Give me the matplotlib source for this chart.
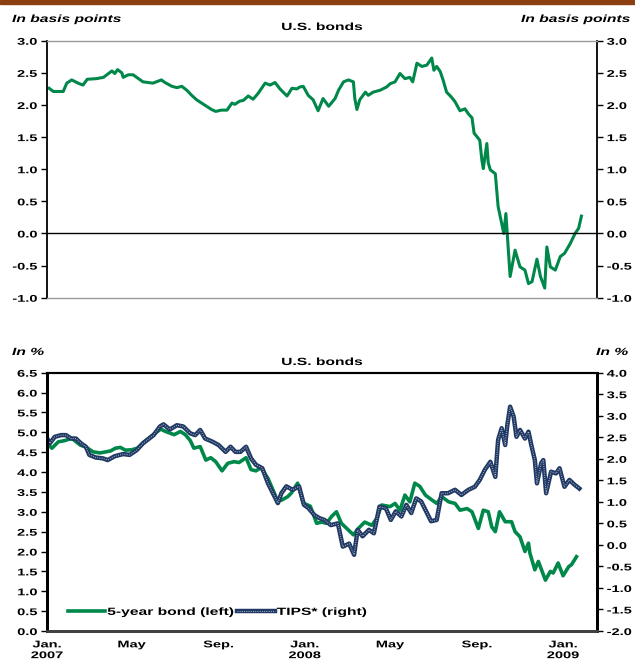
import pandas as pd
import matplotlib
matplotlib.use("Agg")
import matplotlib.pyplot as plt
from matplotlib.lines import Line2D
from matplotlib.patches import Rectangle
from matplotlib.patheffects import AbstractPathEffect
from matplotlib.transforms import Affine2D

plt.rcParams['font.family'] = ['Liberation Sans', 'DejaVu Sans']
plt.rcParams['font.weight'] = 'bold'
plt.rcParams['font.size'] = 7

# spread (top panel)
spread_dates = ["2007-01-04", "2007-01-10", "2007-01-24", "2007-01-29", "2007-02-05", "2007-02-14",
                "2007-02-21", "2007-02-27", "2007-03-12", "2007-03-22", "2007-04-03", "2007-04-07",
                "2007-04-11", "2007-04-17", "2007-04-19", "2007-04-26", "2007-05-03", "2007-05-08",
                "2007-05-17", "2007-05-31", "2007-06-12", "2007-06-17", "2007-06-27", "2007-07-04",
                "2007-07-11", "2007-07-18", "2007-07-25", "2007-08-01", "2007-08-08", "2007-08-15",
                "2007-08-22", "2007-08-28", "2007-09-05", "2007-09-13", "2007-09-20", "2007-09-24",
                "2007-10-01", "2007-10-06", "2007-10-13", "2007-10-20", "2007-10-27", "2007-11-06",
                "2007-11-13", "2007-11-20", "2007-11-27", "2007-12-07", "2007-12-14", "2007-12-21",
                "2007-12-25", "2007-12-30", "2008-01-06", "2008-01-13", "2008-01-20", "2008-01-27",
                "2008-02-04", "2008-02-13", "2008-02-18", "2008-02-25", "2008-03-03", "2008-03-10",
                "2008-03-12", "2008-03-15", "2008-03-19", "2008-03-27", "2008-03-31", "2008-04-07",
                "2008-04-17", "2008-04-26", "2008-05-01", "2008-05-08", "2008-05-15", "2008-05-22",
                "2008-05-29", "2008-06-02", "2008-06-08", "2008-06-15", "2008-06-22", "2008-06-29",
                "2008-07-02", "2008-07-06", "2008-07-11", "2008-07-15", "2008-07-20", "2008-07-27",
                "2008-08-01", "2008-08-08", "2008-08-15", "2008-08-20", "2008-08-25", "2008-08-28",
                "2008-09-03", "2008-09-05", "2008-09-08", "2008-09-10", "2008-09-15", "2008-09-17",
                "2008-09-20", "2008-09-27", "2008-10-01", "2008-10-05", "2008-10-09", "2008-10-12",
                "2008-10-18", "2008-10-25", "2008-11-01", "2008-11-08", "2008-11-13", "2008-11-18",
                "2008-11-25", "2008-11-30", "2008-12-06", "2008-12-09", "2008-12-14", "2008-12-21",
                "2008-12-28", "2009-01-03", "2009-01-11", "2009-01-18", "2009-01-23", "2009-01-27"]
spread_values = [2.26, 2.21, 2.21, 2.34, 2.39, 2.34, 2.31, 2.40, 2.41, 2.43, 2.53, 2.49,
                 2.55, 2.50, 2.43, 2.47, 2.47, 2.43, 2.36, 2.34, 2.39, 2.35, 2.29, 2.27,
                 2.29, 2.23, 2.15, 2.08, 2.03, 1.98, 1.93, 1.90, 1.92, 1.92, 2.03, 2.01,
                 2.06, 2.07, 2.14, 2.09, 2.18, 2.34, 2.31, 2.35, 2.25, 2.14, 2.26, 2.25,
                 2.28, 2.29, 2.15, 2.08, 1.91, 2.10, 1.98, 2.10, 2.23, 2.36, 2.39, 2.36,
                 2.10, 1.93, 2.08, 2.20, 2.15, 2.20, 2.23, 2.28, 2.33, 2.36, 2.49, 2.41,
                 2.43, 2.36, 2.65, 2.60, 2.62, 2.73, 2.54, 2.60, 2.52, 2.39, 2.20, 2.12,
                 2.05, 1.91, 1.94, 1.86, 1.80, 1.56, 1.48, 1.45, 1.14, 1.01, 1.40, 1.10,
                 0.99, 0.93, 0.42, 0.21, 0.00, 0.31, -0.67, -0.26, -0.52, -0.57, -0.78, -0.75,
                 -0.40, -0.67, -0.85, -0.21, -0.52, -0.57, -0.36, -0.31, -0.16, 0.00, 0.08, 0.27]

# 5-year bond (left axis, bottom panel)
bond_dates = ["2007-01-03", "2007-01-08", "2007-01-17", "2007-01-26", "2007-02-05", "2007-02-17",
              "2007-02-26", "2007-03-07", "2007-03-17", "2007-04-01", "2007-04-08", "2007-04-15",
              "2007-04-22", "2007-05-01", "2007-05-09", "2007-05-18", "2007-06-01", "2007-06-11",
              "2007-06-18", "2007-06-30", "2007-07-09", "2007-07-16", "2007-07-23", "2007-07-28",
              "2007-08-06", "2007-08-14", "2007-08-21", "2007-08-28", "2007-09-06", "2007-09-14",
              "2007-09-23", "2007-09-30", "2007-10-10", "2007-10-17", "2007-10-24", "2007-10-31",
              "2007-11-10", "2007-11-19", "2007-11-24", "2007-11-30", "2007-12-08", "2007-12-13",
              "2007-12-17", "2007-12-22", "2007-12-30", "2008-01-09", "2008-01-18", "2008-01-25",
              "2008-02-01", "2008-02-08", "2008-02-15", "2008-02-22", "2008-03-03", "2008-03-10",
              "2008-03-17", "2008-03-26", "2008-04-05", "2008-04-12", "2008-04-19", "2008-05-01",
              "2008-05-08", "2008-05-15", "2008-05-22", "2008-05-29", "2008-06-05", "2008-06-12",
              "2008-06-20", "2008-06-29", "2008-07-06", "2008-07-13", "2008-07-23", "2008-08-01",
              "2008-08-08", "2008-08-18", "2008-08-25", "2008-09-03", "2008-09-10", "2008-09-17",
              "2008-09-22", "2008-09-27", "2008-10-03", "2008-10-11", "2008-10-20", "2008-10-25",
              "2008-11-01", "2008-11-08", "2008-11-13", "2008-11-15", "2008-11-22", "2008-11-27",
              "2008-12-07", "2008-12-14", "2008-12-18", "2008-12-25", "2009-01-01", "2009-01-09",
              "2009-01-13", "2009-01-20"]
bond_values = [4.68, 4.60, 4.76, 4.79, 4.85, 4.68, 4.62, 4.51, 4.48, 4.53, 4.60, 4.62,
               4.55, 4.56, 4.60, 4.75, 4.95, 5.08, 5.02, 4.94, 5.02, 4.94, 4.79, 4.60,
               4.64, 4.30, 4.36, 4.26, 4.03, 4.22, 4.26, 4.24, 4.36, 4.06, 4.03, 4.11,
               3.84, 3.47, 3.26, 3.30, 3.38, 3.47, 3.58, 3.72, 3.22, 3.14, 2.71, 2.74,
               2.71, 2.88, 3.00, 2.71, 2.54, 2.42, 2.58, 2.74, 2.66, 2.83, 3.17, 3.13,
               3.21, 3.04, 3.42, 3.25, 3.72, 3.64, 3.42, 3.30, 3.21, 3.38, 3.25, 3.21,
               3.04, 3.08, 3.00, 2.58, 3.04, 3.00, 2.62, 2.50, 3.00, 2.75, 2.75, 2.50,
               2.37, 2.00, 2.21, 1.96, 1.54, 1.75, 1.28, 1.50, 1.46, 1.71, 1.39, 1.62,
               1.67, 1.87]

# TIPS (right axis, bottom panel)
tips_dates = ["2007-01-01", "2007-01-05", "2007-01-12", "2007-01-21", "2007-01-28", "2007-02-04",
              "2007-02-11", "2007-02-18", "2007-02-25", "2007-03-02", "2007-03-11", "2007-03-21",
              "2007-03-28", "2007-04-07", "2007-04-19", "2007-04-28", "2007-05-08", "2007-05-17",
              "2007-06-01", "2007-06-10", "2007-06-15", "2007-06-24", "2007-07-04", "2007-07-13",
              "2007-07-23", "2007-07-30", "2007-08-06", "2007-08-13", "2007-08-23", "2007-09-01",
              "2007-09-11", "2007-09-18", "2007-09-25", "2007-10-02", "2007-10-10", "2007-10-17",
              "2007-10-24", "2007-11-02", "2007-11-10", "2007-11-17", "2007-11-24", "2007-11-29",
              "2007-12-06", "2007-12-15", "2007-12-24", "2007-12-31", "2008-01-06", "2008-01-15",
              "2008-01-22", "2008-01-29", "2008-02-07", "2008-02-17", "2008-02-24", "2008-03-04",
              "2008-03-11", "2008-03-16", "2008-03-23", "2008-04-01", "2008-04-08", "2008-04-16",
              "2008-04-25", "2008-05-02", "2008-05-09", "2008-05-17", "2008-05-24", "2008-05-31",
              "2008-06-07", "2008-06-14", "2008-06-21", "2008-06-28", "2008-07-06", "2008-07-13",
              "2008-07-22", "2008-08-01", "2008-08-10", "2008-08-20", "2008-08-29", "2008-09-05",
              "2008-09-12", "2008-09-20", "2008-09-27", "2008-10-01", "2008-10-06", "2008-10-11",
              "2008-10-14", "2008-10-18", "2008-10-23", "2008-10-27", "2008-11-01", "2008-11-08",
              "2008-11-13", "2008-11-17", "2008-11-22", "2008-11-25", "2008-12-01", "2008-12-04",
              "2008-12-08", "2008-12-15", "2008-12-22", "2008-12-27", "2009-01-03", "2009-01-10",
              "2009-01-17", "2009-01-24"]
tips_values = [2.48, 2.36, 2.51, 2.55, 2.55, 2.47, 2.47, 2.36, 2.28, 2.09, 2.03, 2.01,
               1.97, 2.06, 2.11, 2.09, 2.20, 2.36, 2.55, 2.75, 2.80, 2.68, 2.78, 2.75,
               2.59, 2.55, 2.67, 2.47, 2.40, 2.32, 2.16, 2.28, 2.16, 2.16, 2.28, 2.01,
               1.86, 1.78, 1.43, 1.20, 0.97, 1.20, 1.36, 1.28, 1.36, 0.93, 0.86, 0.69,
               0.62, 0.58, 0.46, 0.50, -0.04, 0.03, -0.23, 0.35, 0.20, 0.35, 0.27, 0.89,
               0.85, 0.58, 0.78, 0.66, 0.93, 0.74, 1.08, 1.01, 0.78, 0.55, 0.58, 1.20,
               1.20, 1.28, 1.16, 1.28, 1.35, 1.51, 1.74, 1.93, 1.58, 2.44, 2.71, 2.32,
               2.78, 3.21, 2.98, 2.51, 2.67, 2.47, 2.63, 2.32, 1.97, 1.43, 1.90, 1.97,
               1.20, 1.70, 1.66, 1.78, 1.35, 1.51, 1.40, 1.31]

GREEN = '#00884a'
NAVY = '#1f3864'


# the reference text is drawn horizontally stretched
class Wide(AbstractPathEffect):
    def __init__(self, sx=1.5, anchor='left'):
        super().__init__()
        self.sx = sx
        self.anchor = anchor

    def draw_path(self, renderer, gc, tpath, affine, rgbFace=None):
        ext = tpath.get_extents()
        if self.anchor == 'right':
            a = ext.x1
        elif self.anchor == 'center':
            a = (ext.x0 + ext.x1) / 2
        else:
            a = 0
        t = Affine2D().translate(-a, 0).scale(self.sx, 1).translate(a, 0) + affine
        renderer.draw_path(gc, tpath, t, rgbFace)


def wide(texts, anchor):
    for t in texts:
        t.set_path_effects([Wide(1.5, anchor)])


x0 = pd.Timestamp("2007-01-01")
x1 = pd.Timestamp("2009-02-18")

fig = plt.figure(figsize=(6.35, 6.71), dpi=100)
fig.patches.append(Rectangle((0, 1 - 4 / 671), 1, 4 / 671, transform=fig.transFigure,
                             color='#8c3f10', zorder=0))

# top panel
ax = fig.add_axes([0.0740, 0.5563, 0.8661, 0.3830])
ax.plot(pd.to_datetime(spread_dates), spread_values, color=GREEN, lw=2.2)
ax.axhline(0, color='black', lw=1)
ax.set_xlim(x0, x1)
ax.set_ylim(-1, 3)
ax.set_yticks([-1.0, -0.5, 0.0, 0.5, 1.0, 1.5, 2.0, 2.5, 3.0])
ax.set_yticklabels(['%.1f' % v for v in ax.get_yticks()])
ax.set_xticks([])
ax.tick_params(axis='y', direction='out', length=4, width=1, pad=3,
               right=True, labelright=True)
for s in ['left', 'right']:
    ax.spines[s].set_color('black')
    ax.spines[s].set_linewidth(1.3)
for s in ['top', 'bottom']:
    ax.spines[s].set_color('#9a9a9a')
    ax.spines[s].set_linewidth(1.0)
for tk in ax.yaxis.get_major_ticks():
    tk.label1.set_path_effects([Wide(1.5, 'right')])
    tk.label2.set_path_effects([Wide(1.5, 'left')])

t = fig.text(12 / 635, 1 - 19 / 671, 'In basis points', style='italic', fontsize=7.5,
             ha='left', va='center')
wide([t], 'left')
t = fig.text(630 / 635, 1 - 19 / 671, 'In basis points', style='italic', fontsize=7.5,
             ha='right', va='center')
wide([t], 'right')
t = fig.text(322 / 635, 1 - 27 / 671, 'U.S. bonds', fontsize=7.5, ha='center', va='center')
wide([t], 'center')

# bottom panel
axb = fig.add_axes([0.0740, 0.0596, 0.8661, 0.3850])
axr = axb.twinx()
axb.plot(pd.to_datetime(bond_dates), bond_values, color=GREEN, lw=2.6)
axr.plot(pd.to_datetime(tips_dates), tips_values, color=NAVY, lw=3.2)
axr.plot(pd.to_datetime(tips_dates), tips_values, color='white', lw=0.8,
         dashes=(0.8, 1.2), alpha=0.65)
axb.set_xlim(x0, x1)
axb.set_ylim(0, 6.5)
axr.set_ylim(-2, 4)
lv = [i * 0.5 for i in range(14)]
axb.set_yticks(lv)
axb.set_yticklabels(['%.1f' % v for v in lv])
rv = [-2 + i * 0.5 for i in range(13)]
axr.set_yticks(rv)
axr.set_yticklabels(['%.1f' % v for v in rv])
for a in (axb, axr):
    a.tick_params(axis='y', direction='out', length=4, width=1, pad=3)
    for s in ['left', 'right']:
        a.spines[s].set_color('black')
        a.spines[s].set_linewidth(2)
    a.spines['top'].set_linewidth(1.5)
    a.spines['bottom'].set_color('#404040')
    a.spines['bottom'].set_linewidth(2)

ticks = pd.to_datetime(["2007-01-01", "2007-05-01", "2007-09-01", "2008-01-01",
                        "2008-05-01", "2008-09-01", "2009-01-01"])
axb.set_xticks(ticks)
axb.set_xticklabels(['Jan.\n2007', 'May', 'Sep.', 'Jan.\n2008', 'May', 'Sep.', 'Jan.\n2009'],
                    linespacing=1.1)
axb.tick_params(axis='x', length=0, pad=6)
wide(axb.get_xticklabels(), 'center')
wide(axb.get_yticklabels(), 'right')
wide(axr.get_yticklabels(), 'left')

h1 = Line2D([], [], color=GREEN, lw=2.6)
h2a = Line2D([], [], color=NAVY, lw=3.2)
h2b = Line2D([], [], color='white', lw=0.8, dashes=(0.8, 1.2), alpha=0.65)
leg = axb.legend([h1, (h2a, h2b)], ['5-year bond (left)', 'TIPS* (right)'],
                 loc='center left', bbox_to_anchor=(0.03, 0.074), ncol=2, frameon=False,
                 handlelength=3.6, handletextpad=0.2, columnspacing=4.4, fontsize=7.5,
                 borderaxespad=0)
wide(leg.get_texts(), 'left')

t = fig.text(12 / 635, 1 - 352 / 671, 'In %', style='italic', fontsize=7.5,
             ha='left', va='center')
wide([t], 'left')
t = fig.text(628 / 635, 1 - 352 / 671, 'In %', style='italic', fontsize=7.5,
             ha='right', va='center')
wide([t], 'right')
t = fig.text(322 / 635, 1 - 362 / 671, 'U.S. bonds', fontsize=7.5, ha='center', va='center')
wide([t], 'center')

fig.savefig('out.png', dpi=100)
